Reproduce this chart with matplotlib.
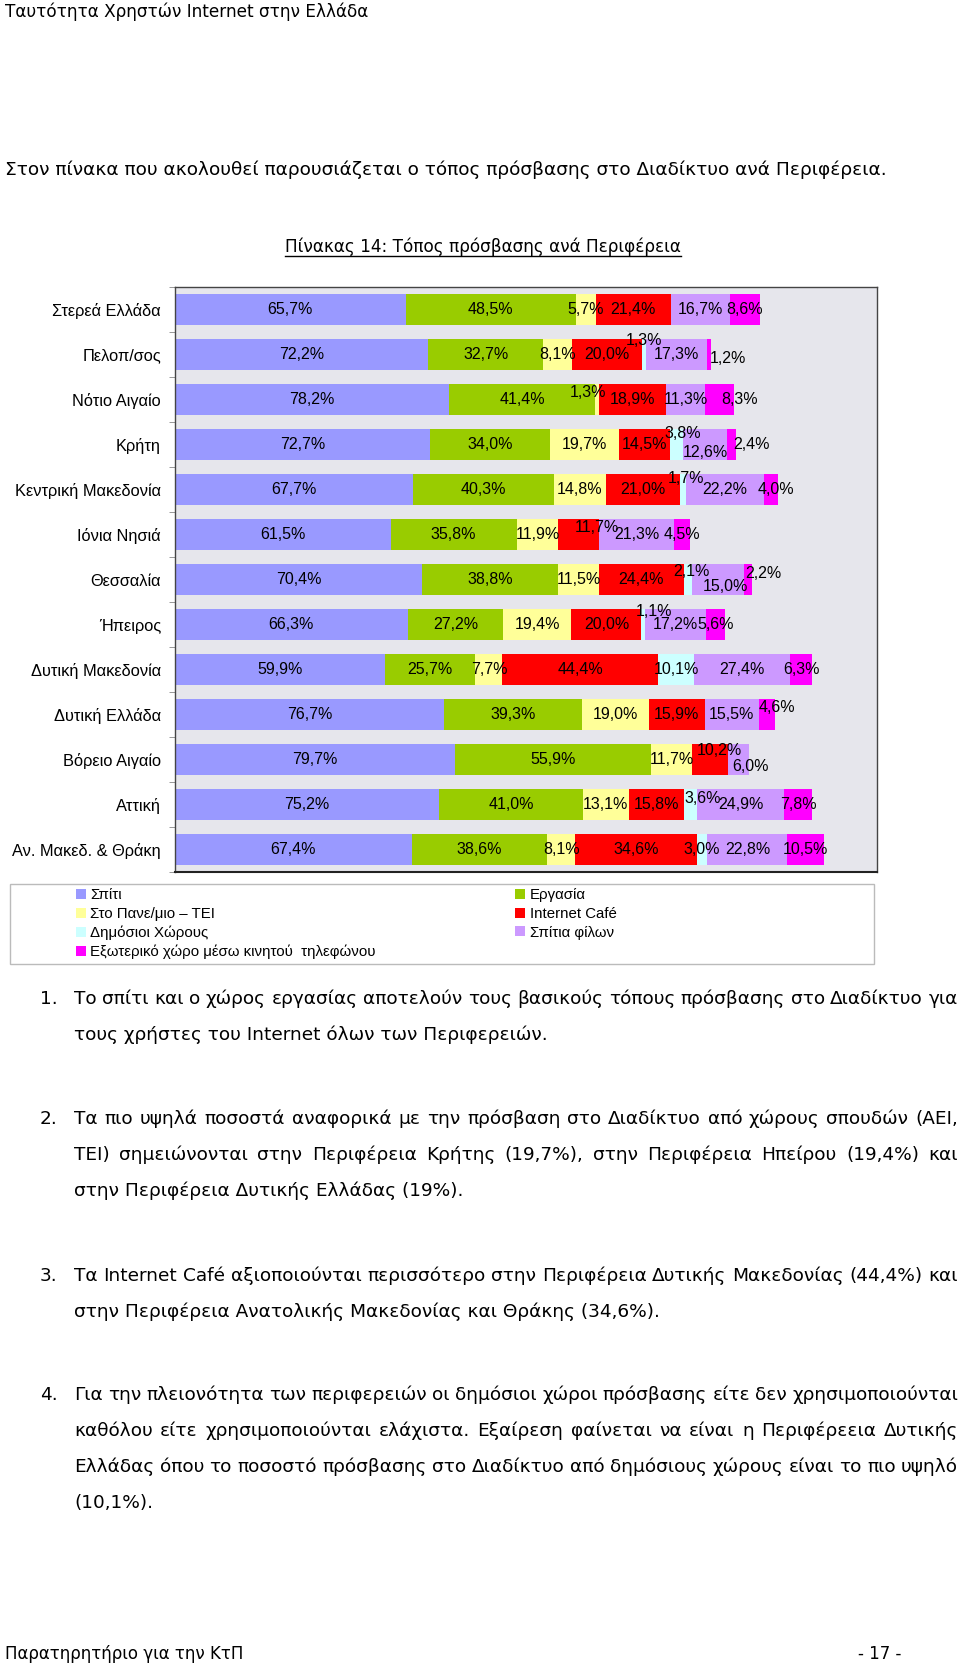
import numpy as np
import matplotlib
matplotlib.use('Agg')
import matplotlib.pyplot as plt
from matplotlib.patches import Rectangle, Patch
from matplotlib.lines import Line2D

# Τόπος πρόσβασης στο Διαδίκτυο ανά Περιφέρεια (%)
regions = ['Στερεά Ελλάδα', 'Πελοπ/σος', 'Νότιο Αιγαίο', 'Κρήτη', 'Κεντρική Μακεδονία',
           'Ιόνια Νησιά', 'Θεσσαλία', 'Ήπειρος', 'Δυτική Μακεδονία', 'Δυτική Ελλάδα',
           'Βόρειο Αιγαίο', 'Αττική', 'Αν. Μακεδ. & Θράκη']
series_names = ['Σπίτι', 'Εργασία', 'Στο Πανε/μιο – ΤΕΙ', 'Internet Café',
                'Δημόσιοι Χώρους', 'Σπίτια φίλων', 'Εξωτερικό χώρο μέσω κινητού  τηλεφώνου']
home    = [65.7, 72.2, 78.2, 72.7, 67.7, 61.5, 70.4, 66.3, 59.9, 76.7, 79.7, 75.2, 67.4]
work    = [48.5, 32.7, 41.4, 34.0, 40.3, 35.8, 38.8, 27.2, 25.7, 39.3, 55.9, 41.0, 38.6]
univ    = [5.7, 8.1, 1.3, 19.7, 14.8, 11.9, 11.5, 19.4, 7.7, 19.0, 11.7, 13.1, 8.1]
cafe    = [21.4, 20.0, 18.9, 14.5, 21.0, 11.7, 24.4, 20.0, 44.4, 15.9, 10.2, 15.8, 34.6]
public  = [0, 1.3, 0, 3.8, 1.7, 0, 2.1, 1.1, 10.1, 0, 0, 3.6, 3.0]
friends = [16.7, 17.3, 11.3, 12.6, 22.2, 21.3, 15.0, 17.2, 27.4, 15.5, 6.0, 24.9, 22.8]
mobile  = [8.6, 1.2, 8.3, 2.4, 4.0, 4.5, 2.2, 5.6, 6.3, 4.6, 0, 7.8, 10.5]

colors = ['#9999ff', '#99cc00', '#ffff99', '#ff0000', '#ccffff', '#cc99ff', '#ff00ff']

# label shifts (pixels) for the small segments, (region, series) -> (dx, dy)
nudges = {(1, 4): (0, 14), (1, 6): (19, -4), (2, 2): (-9, 7), (2, 6): (20, 0),
          (3, 4): (7, 11), (3, 5): (0, -8), (3, 6): (20, 0), (4, 4): (3, 11),
          (4, 6): (5, 0), (5, 3): (18, 7), (6, 4): (3, 8), (6, 5): (7, -7),
          (6, 6): (15, 6), (7, 4): (11, 13), (9, 6): (10, 7), (10, 3): (9, 9),
          (10, 5): (12, -7), (11, 4): (12, 6)}

W, H = 960, 1666
def fx(px):
    return px / W
def fy(py):
    return 1 - py / H

chart_font = 'Liberation Sans'
body_font = 'DejaVu Sans'
body_size = 13.3

fig = plt.figure(figsize=(9.6, 16.66), dpi=100)
ax = fig.add_axes([fx(175), fy(872), (877 - 175) / W, (872 - 287) / H])
ax.set_facecolor('#e6e6ec')

values = np.array([home, work, univ, cafe, public, friends, mobile])
y = np.arange(len(regions))
left = np.zeros(len(regions))
for k in range(len(series_names)):
    ax.barh(y, values[k], left=left, height=0.67, color=colors[k], edgecolor='none')
    for i in range(len(regions)):
        v = values[k, i]
        if v <= 0:
            continue
        dx, dy = nudges.get((i, k), (0, 0))
        ax.annotate(f'{v:.1f}%'.replace('.', ','), xy=(left[i] + v / 2, i),
                    xytext=(dx, dy), textcoords='offset pixels', ha='center', va='center',
                    fontsize=11.5, family=chart_font, color='black')
    left += values[k]

ax.set_xlim(0, 200)
ax.set_ylim(len(regions) - 0.5, -0.5)
ax.set_xticks([])
ax.set_yticks(y, regions, family=chart_font, fontsize=11.8)
ax.set_yticks(np.arange(-0.5, len(regions), 1), minor=True)
ax.tick_params(axis='y', which='major', length=0, pad=10)
ax.tick_params(axis='y', which='minor', length=4, color='#888888')
for s in ax.spines.values():
    s.set_color('#444444')
    s.set_linewidth(1)
ax.spines['bottom'].set_linewidth(1.5)
ax.spines['bottom'].set_color('#222222')

# legend
order = [0, 2, 4, 6, 1, 3, 5]
handles = [Patch(facecolor=colors[k], edgecolor='none') for k in order]
labels = [series_names[k] for k in order]
fig.legend(handles, labels, loc='upper left', bbox_to_anchor=(fx(76), fy(888)), ncol=2,
           frameon=False, prop={'family': chart_font, 'size': 10.8}, handlelength=0.65,
           handleheight=0.65, handletextpad=0.3, labelspacing=0.32, columnspacing=9.3,
           borderpad=0, borderaxespad=0)
fig.add_artist(Rectangle((fx(10), fy(964)), (874 - 10) / W, 80 / H, transform=fig.transFigure,
                         fill=False, edgecolor='#bbbbbb', lw=1))

# page text
renderer = fig.canvas.get_renderer()

def put(text, x0, yy, x1=None, size=body_size, **kw):
    # yy is the visual middle of the line; place on a common baseline
    base = fy(yy + 0.36 * size * 100 / 72)
    kw.setdefault('family', body_font)
    if x1 is None:
        return fig.text(fx(x0), base, text, va='baseline', size=size, **kw)
    words = text.split()
    objs = [fig.text(0, base, w, va='baseline', size=size, **kw) for w in words]
    widths = [o.get_window_extent(renderer).width for o in objs]
    gap = (x1 - x0 - sum(widths)) / (len(words) - 1)
    x = x0
    for o, w in zip(objs, widths):
        o.set_x(fx(x))
        x += w + gap

put('Ταυτότητα Χρηστών Internet στην Ελλάδα', 5, 11, size=12.2)
put('Στον πίνακα που ακολουθεί παρουσιάζεται ο τόπος πρόσβασης στο Διαδίκτυο ανά Περιφέρεια.', 5, 168)
title = put('Πίνακας 14: Τόπος πρόσβασης ανά Περιφέρεια', 483, 246, size=12.2, ha='center')
bb = title.get_window_extent(renderer)
fig.add_artist(Line2D([bb.x0 / W, bb.x1 / W], [fy(256), fy(256)], color='black', lw=1,
                      transform=fig.transFigure))

paragraphs = [
    (997, ['Το σπίτι και ο χώρος εργασίας αποτελούν τους βασικούς τόπους πρόσβασης στο Διαδίκτυο για',
           'τους χρήστες του Internet όλων των Περιφερειών.']),
    (1117, ['Τα πιο υψηλά ποσοστά αναφορικά με την πρόσβαση στο Διαδίκτυο από χώρους σπουδών (ΑΕΙ,',
            'ΤΕΙ) σημειώνονται στην Περιφέρεια Κρήτης (19,7%), στην Περιφέρεια Ηπείρου (19,4%) και',
            'στην Περιφέρεια Δυτικής Ελλάδας (19%).']),
    (1274, ['Τα Internet Café αξιοποιούνται περισσότερο στην Περιφέρεια Δυτικής Μακεδονίας (44,4%) και',
            'στην Περιφέρεια Ανατολικής Μακεδονίας και Θράκης (34,6%).']),
    (1393, ['Για την πλειονότητα των περιφερειών οι δημόσιοι χώροι πρόσβασης είτε δεν χρησιμοποιούνται',
            'καθόλου είτε χρησιμοποιούνται ελάχιστα. Εξαίρεση φαίνεται να είναι η Περιφέρεεια Δυτικής',
            'Ελλάδας όπου το ποσοστό πρόσβασης στο Διαδίκτυο από δημόσιους χώρους είναι το πιο υψηλό',
            '(10,1%).']),
]
for n, (y0, lines) in enumerate(paragraphs, start=1):
    put(f'{n}.', 40, y0)
    for j, line in enumerate(lines):
        last = j == len(lines) - 1
        put(line, 74, y0 + 36 * j, None if last else 958)

put('Παρατηρητήριο για την ΚτΠ', 5, 1653, size=12)
put('- 17 -', 901, 1653, size=12, ha='right')

fig.savefig('out.png', dpi=100)
